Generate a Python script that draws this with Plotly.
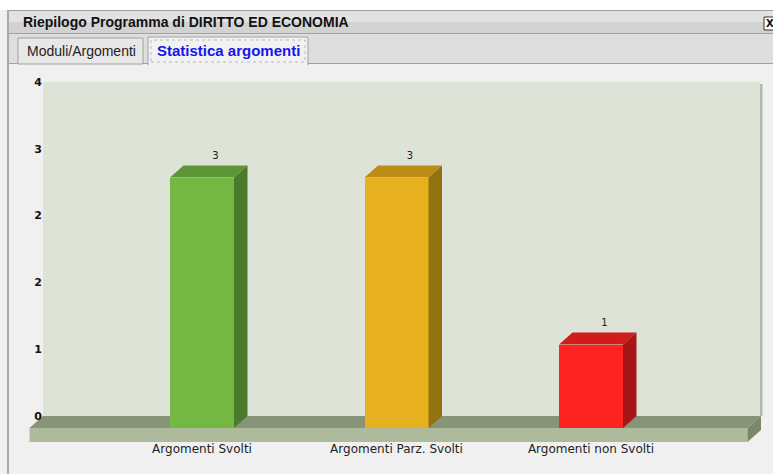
import plotly.graph_objects as go

# ---- data -------------------------------------------------------------
categories = ["Argomenti Svolti", "Argomenti Parz. Svolti", "Argomenti non Svolti"]
values = [3, 3, 1]
y_tickvals = [0, 0.8, 1.6, 2.4, 3.2, 4]
y_ticktext = ["0", "1", "2", "2", "3", "4"]

front_colors = ["#74b843", "#e6b01e", "#fe2323"]
top_colors = ["#5e9536", "#bb8d14", "#d11c1c"]
side_colors = ["#4c7a2d", "#94730f", "#a71616"]

# ---- geometry ---------------------------------------------------------
W_FIG, H_FIG = 773, 474
L, R, T, B = 29, 763, 82, 442          # plot area in page pixels
PW, PH = R - L, B - T
PX_X = 194.5                            # pixels per category step
PX_Y = 83.5                             # pixels per value unit
X0_PX, Y0_PX = 202, 416                 # pixel of x=0 (front centre), y=0 (wall base)

x_range = [(L - X0_PX) / PX_X, (R - X0_PX) / PX_X]
y_range = [-(B - Y0_PX) / PX_Y, 4]

DX = 13.5 / PX_X                        # 3D depth offset (x)
DY = 12 / PX_Y                          # 3D depth offset (y)
BAR_W = 64 / PX_X

WALL_L = (43 - X0_PX) / PX_X
WALL_R = (760 - X0_PX) / PX_X
FLOOR_R = (761 - X0_PX) / PX_X
FLOOR_BOTTOM = y_range[0]


def px(x):
    return (x - L) / PW


def py(y):
    return (B - y) / PH


def path(points):
    return "M " + " L ".join(f"{x},{y}" for x, y in points) + " Z"


fig = go.Figure()

# front faces of the bars
xs = list(range(len(categories)))
fig.add_trace(go.Bar(x=xs, y=values, base=-DY, width=BAR_W,
                     marker=dict(color=front_colors, line=dict(width=0)),
                     hoverinfo="skip", showlegend=False))

# top and side faces
for i, v in enumerate(values):
    xl, xr = i - BAR_W / 2, i + BAR_W / 2
    fig.add_trace(go.Scatter(x=[xl, xr, xr + DX, xl + DX, xl],
                             y=[v - DY, v - DY, v, v, v - DY],
                             fill="toself", fillcolor=top_colors[i], line=dict(width=0),
                             mode="lines", hoverinfo="skip", showlegend=False))
    fig.add_trace(go.Scatter(x=[xr, xr, xr + DX, xr + DX, xr],
                             y=[-DY, v - DY, v, 0, -DY],
                             fill="toself", fillcolor=side_colors[i], line=dict(width=0),
                             mode="lines", hoverinfo="skip", showlegend=False))

# value labels
fig.add_trace(go.Scatter(x=[i + DX for i in xs], y=values, mode="markers+text",
                         text=[str(v) for v in values], textposition="top center",
                         marker=dict(size=5, opacity=0),
                         textfont=dict(family="DejaVu Sans", size=10, color="#222"),
                         cliponaxis=False, hoverinfo="skip", showlegend=False))

shapes = []
# chart wall and its right shadow
shapes.append(dict(type="rect", xref="x", yref="y", x0=WALL_L, x1=WALL_R, y0=0, y1=4,
                   fillcolor="#dde3d6", line=dict(width=0), layer="below"))
shapes.append(dict(type="rect", xref="x", yref="y", x0=WALL_R, x1=WALL_R + 2.5 / PX_X,
                   y0=0, y1=4 - 2 / PX_Y, fillcolor="#b4baa9", line=dict(width=0),
                   layer="below"))

# floor: top face, front face, right side
FL = WALL_L - DX
FR = FLOOR_R - DX
shapes.append(dict(type="path", xref="x", yref="y", layer="below", line=dict(width=0),
                   fillcolor="#89937a",
                   path=path([(WALL_L, 0), (FLOOR_R, 0), (FR, -DY), (FL, -DY)])))
shapes.append(dict(type="path", xref="x", yref="y", layer="below", line=dict(width=0),
                   fillcolor="#adba9b",
                   path=path([(FL, -DY), (FR, -DY), (FR, FLOOR_BOTTOM), (FL, FLOOR_BOTTOM)])))
shapes.append(dict(type="path", xref="x", yref="y", layer="below", line=dict(width=0),
                   fillcolor="#7b866b",
                   path=path([(FR, -DY), (FLOOR_R, 0), (FLOOR_R, FLOOR_BOTTOM + DY),
                              (FR, FLOOR_BOTTOM)])))


def prect(x0, y0, x1, y1, fill, line=None, dash=None, layer="below"):
    d = dict(type="rect", xref="paper", yref="paper",
             x0=px(x0), x1=px(x1), y0=py(y1), y1=py(y0),
             fillcolor=fill, layer=layer)
    if line:
        d["line"] = dict(color=line, width=1, dash=dash or "solid")
    else:
        d["line"] = dict(width=0)
    shapes.append(d)


# window chrome
prect(0, 0, W_FIG, 10, "#ffffff")
prect(9, 10, W_FIG, 22, "#e2e2e2")
prect(9, 22, W_FIG, 34, "#d2d2d2")
prect(9, 10, W_FIG, 11, "#9c9c9c")
prect(9, 33, W_FIG, 34, "#a2a2a2")
prect(9, 34, W_FIG, 63, "#dedede")
prect(9, 63, W_FIG, 64, "#a0a0a0")
prect(7, 10, 9, H_FIG, "#a9a9a9")
prect(18, 38, 143, 64, "#e8e8e8", line="#a0a0a0")
prect(148, 37, 308, 64.5, "#f2f2f2", line="#a0a0a0")
prect(149, 63, 307, 65, "#f0f0f0")
prect(151, 40, 305, 62, "rgba(0,0,0,0)", line="#b8b8b8", dash="dot")
prect(764, 17, 778, 30, "#ffffff", line="#333333", layer="above")

annotations = [
    dict(text="<b>Riepilogo Programma di DIRITTO ED ECONOMIA</b>", x=px(21), y=py(22),
         xref="paper", yref="paper", xanchor="left", yanchor="middle", showarrow=False,
         font=dict(family="Liberation Sans", size=14, color="#111")),
    dict(text="Moduli/Argomenti", x=px(81), y=py(50.5), xref="paper", yref="paper",
         xanchor="center", yanchor="middle", showarrow=False,
         font=dict(family="Liberation Sans", size=14, color="#222")),
    dict(text="<b>Statistica argomenti</b>", x=px(228.5), y=py(50), xref="paper", yref="paper",
         xanchor="center", yanchor="middle", showarrow=False,
         font=dict(family="Liberation Sans", size=15, color="#1515ee")),
    dict(text="<b>X</b>", x=px(770), y=py(23.5), xref="paper", yref="paper",
         xanchor="center", yanchor="middle", showarrow=False,
         font=dict(family="DejaVu Sans", size=10, color="#111")),
]

fig.update_layout(
    width=W_FIG, height=H_FIG,
    margin=dict(l=L, r=W_FIG - R, t=T, b=H_FIG - B, pad=0),
    paper_bgcolor="#f0f0f0", plot_bgcolor="rgba(0,0,0,0)",
    shapes=shapes, annotations=annotations, bargap=0,
    xaxis=dict(range=x_range, tickvals=xs, ticktext=categories, showgrid=False,
               zeroline=False, showline=False, ticks="", fixedrange=True,
               tickfont=dict(family="DejaVu Sans", size=12, color="#222"),
               ticklabelstandoff=-2),
    yaxis=dict(range=y_range, tickvals=y_tickvals, ticktext=y_ticktext, showgrid=False,
               zeroline=False, showline=False, ticks="", fixedrange=True,
               tickfont=dict(family="DejaVu Sans", size=11, color="#111", weight="bold"),
               ticklabelstandoff=-14),
)

fig.write_html("out.html")
